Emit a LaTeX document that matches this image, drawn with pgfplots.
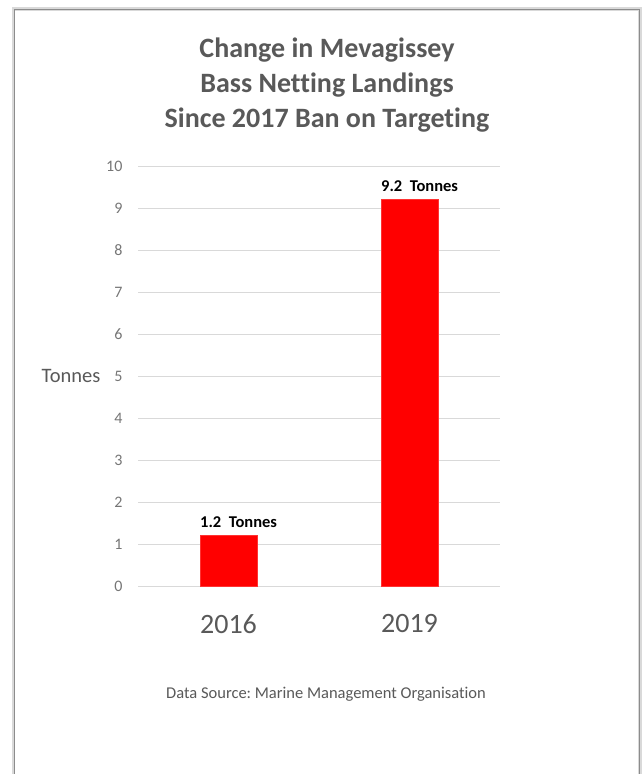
\documentclass[border=0pt]{standalone}
\usepackage{pgfplots}
\pgfplotsset{compat=1.18}
\usepackage{fontspec}
\setmainfont{Carlito}[Ligatures=NoCommon]
\frenchspacing
\definecolor{titlegray}{HTML}{595959}
\definecolor{tickgray}{HTML}{767676}
\definecolor{gridgray}{HTML}{D9D9D9}
\definecolor{barred}{HTML}{FF0000}
\begin{document}
\begin{tikzpicture}
\useasboundingbox (0pt,0pt) rectangle (643pt,774pt);
\fill[white] (0pt,0pt) rectangle (643pt,774pt);
\begin{scope}
\clip (0pt,0pt) rectangle (643pt,774pt);
\draw[black!15, line width=4pt] (14pt,-10pt) rectangle (640pt,765pt);
\fill[white] (14pt,-10pt) rectangle (638pt,763pt);
\draw[black!45, line width=1.2pt] (14.5pt,-10pt) -- (14.5pt,764.5pt) -- (639.5pt,764.5pt) -- (639.5pt,-10pt);
\end{scope}
\node[font=\bfseries\fontsize{28}{35}\selectfont, text=titlegray, align=center] at (327pt,689pt)
  {Change in Mevagissey\\Bass Netting Landings\\Since 2017 Ban on Targeting};
\begin{axis}[
  at={(138pt,188pt)}, anchor=south west,
  scale only axis, width=362pt, height=420pt,
  xmin=-0.5, xmax=1.5, ymin=0, ymax=10,
  ytick={0,1,...,10},
  xtick={0,1}, xticklabels={2016,2019},
  axis line style={draw=none},
  major tick length=0pt,
  ymajorgrids, grid style={gridgray, line width=0.8pt},
  yticklabel style={font=\fontsize{16}{18}\selectfont, text=tickgray, xshift=-12pt},
  xticklabel style={font=\fontsize{28}{32}\selectfont, text=titlegray, yshift=-25pt},
  /pgf/number format/assume math mode=true,
  ylabel={Tonnes},
  ylabel style={rotate=-90, font=\fontsize{20.5}{24}\selectfont, text=titlegray, at={(axis description cs:-0.185,0.5)}, anchor=center},
  ybar, bar width=57pt,
  nodes near coords={\pgfmathprintnumber[fixed,precision=1]{\pgfplotspointmeta}\ \ Tonnes},
  nodes near coords style={font=\bfseries\fontsize{16.5}{18}\selectfont, text=black, anchor=south west, inner sep=0pt, xshift=-28.5pt, yshift=8pt},
  clip=false,
]
\addplot[fill=barred, draw=barred!80] coordinates {(0,1.2) (1,9.2)};
\end{axis}
\node[font=\fontsize{16.5}{20}\selectfont, text=titlegray] at (326pt,80pt) {Data Source: Marine Management Organisation};
\end{tikzpicture}
\end{document}
